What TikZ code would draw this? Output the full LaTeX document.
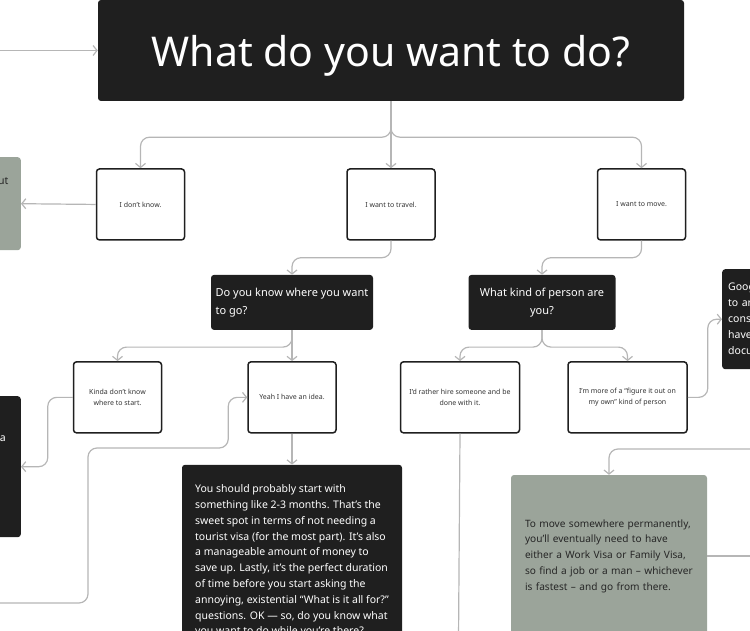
\documentclass[tikz,border=0pt]{standalone}
\usepackage{fontspec}
\setmainfont{Noto Sans}
\usetikzlibrary{positioning,arrows.meta,calc}
\definecolor{boxDark}{RGB}{31,31,31}
\definecolor{boxSage}{RGB}{155,164,154}
\definecolor{linkGray}{RGB}{182,182,182}
\definecolor{textGray}{RGB}{51,51,51}
\tikzset{
	heading/.style={
		fill=boxDark,
		rounded corners=3pt,
		text=white,
		minimum width=586pt,
		minimum height=101pt,
		text depth=0pt,
		font=\fontsize{41}{49}\selectfont,
	},
	question/.style={
		fill=boxDark,
		rounded corners=3pt,
		text=white,
		minimum height=55pt,
		font=\fontsize{11}{18}\selectfont,
	},
	answer/.style={
		draw=boxDark,
		line width=1.5pt,
		fill=white,
		rounded corners=3pt,
		minimum width=88pt,
		minimum height=71pt,
		align=center,
		text=textGray,
		font=\fontsize{7}{11}\selectfont,
	},
	note/.style={
		fill=boxDark,
		rounded corners=3pt,
		text=white,
		align=left,
		font=\fontsize{10.5}{15.8}\selectfont,
	},
	tip/.style={
		fill=boxSage,
		rounded corners=3pt,
		text=black!85,
		align=left,
		font=\fontsize{10.1}{15.75}\selectfont,
	},
	fragment/.style={inner sep=0pt, font=\fontsize{10.5}{16}\selectfont},
	link/.style={
		draw=linkGray,
		line width=1.2pt,
		rounded corners=9pt,
		-{Straight Barb[length=4pt,width=10pt]},
	},
	wire/.style={draw=linkGray, line width=1.2pt, rounded corners=9pt},
}

\begin{document}
\begin{tikzpicture}[x=1pt, y=-1pt]
	\useasboundingbox (0,0) rectangle (750,631);
	\clip (0,0) rectangle (750,631);
	
	% --- Top question ---
	\node[heading] (what) at (391,50.5) {What do you want to do?};
	
	% --- First answers ---
	\node[answer] (travel) [below=67pt of what] {I want to travel.};
	\node[answer] (dunno) [left=161pt of travel] {I don’t know.};
	\node[answer] (move) [right=161pt of travel] {I want to move.};
	
	% --- Boxes cut by the left and right edges ---
	\node[tip, anchor=north east, minimum width=120pt, minimum height=93pt] (aboutbox) at (21,157) {};
	\node[fragment, anchor=base east, text=black!85] (aboutcut) at (8.5,185) {ut};
	\node[note, anchor=north east, minimum width=120pt, minimum height=141pt] (leftnote) at (21,396) {};
	\node[fragment, anchor=base east, text=white] (leftcut) at (6,441) {a};
	
	% --- Second level questions ---
	\node[question, minimum width=162pt, align=left] (where) [below=34pt of travel, xshift=-99pt]
	{Do you know where you want\\to go?};
	\node[question, minimum width=147pt, align=center] (kind) [below=34pt of move, xshift=-99.5pt]
	{What kind of person are\\you?};
	\node[note, anchor=north west, text width=90pt, inner xsep=6pt, minimum height=100pt,
	font=\fontsize{10.5}{16}\selectfont] (docs) at (722,269) {Goog\\to an\\cons\\have\\docu};
	
	% --- Third level answers ---
	\node[answer] (yeah) [below=31pt of where] {Yeah I have an idea.};
	\node[answer] (kinda) [left=85pt of yeah] {Kinda don’t know\\where to start.};
	\node[answer, minimum width=119pt] (hire) [below=31pt of kind, xshift=-82pt]
	{I’d rather hire someone and be\\done with it.};
	\node[answer, minimum width=119pt] (own) [right=47pt of hire]
	{I’m more of a “figure it out on\\my own” kind of person};
	
	% --- Long answers ---
	\node[note, minimum width=220pt, inner ysep=20pt] (plan) [below=31pt of yeah]
	{You should probably start with\\
		something like 2-3 months. That’s the\\
		sweet spot in terms of not needing a\\
		tourist visa (for the most part). It’s also\\
		a manageable amount of money to\\
		save up. Lastly, it’s the perfect duration\\
		of time before you start asking the\\
		annoying, existential “What is it all for?”\\
		questions. OK — so, do you know what\\
		you want to do while you’re there?};
	\node[tip, text width=168pt, inner xsep=14pt, minimum height=162pt] (permanent) at (609,556)
	{To move somewhere permanently,\\
		you’ll eventually need to have\\
		either a Work Visa or Family Visa,\\
		so find a job or a man – whichever\\
		is fastest – and go from there.};
	
	% loose ends running off the page
	\coordinate (fromleft) at (-5,50.5);
	\coordinate (backin) at (-5,603);
	\coordinate (hireout) at (458.5,640);
	\coordinate (fromright) at (755,449);
	\coordinate (toright) at (755,556);
	
	% --- Links ---
	\draw[link] (fromleft) -- (what.west);
	\draw[link] (what.south) -- ++(0,36) -| (dunno.north);
	\draw[link] (what.south) -- ++(0,36) -| (move.north);
	\draw[link] (what.south) -- (travel.north);
	\draw[link] (dunno.west) -- (aboutbox.east);
	\draw[link] (travel.south) -- ++(0,17) -| (where.north);
	\draw[link] (move.south) -- ++(0,17) -| (kind.north);
	\draw[link] (where.south) -- ++(0,17) -| (kinda.north);
	\draw[link] (where.south) -- (yeah.north);
	\draw[link] (kind.south) -- ++(0,17) -| (hire.north);
	\draw[link] (kind.south) -- ++(0,17) -| (own.north);
	\draw[link] (kinda.west) -- ++(-25,0) |- (leftnote.east);
	\draw[link] (backin) -| (88,448) -| ([xshift=-19pt]yeah.west) -- (yeah.west);
	\draw[link] (yeah.south) -- (plan.north);
	\draw[wire] (hire.south) -- (hireout);
	\draw[link] (own.east) -- ++(20,0) |- (docs.west);
	\draw[link] (fromright) -| (permanent.north);
	\draw[wire] (permanent.east) -- (toright);
\end{tikzpicture}
\end{document}
